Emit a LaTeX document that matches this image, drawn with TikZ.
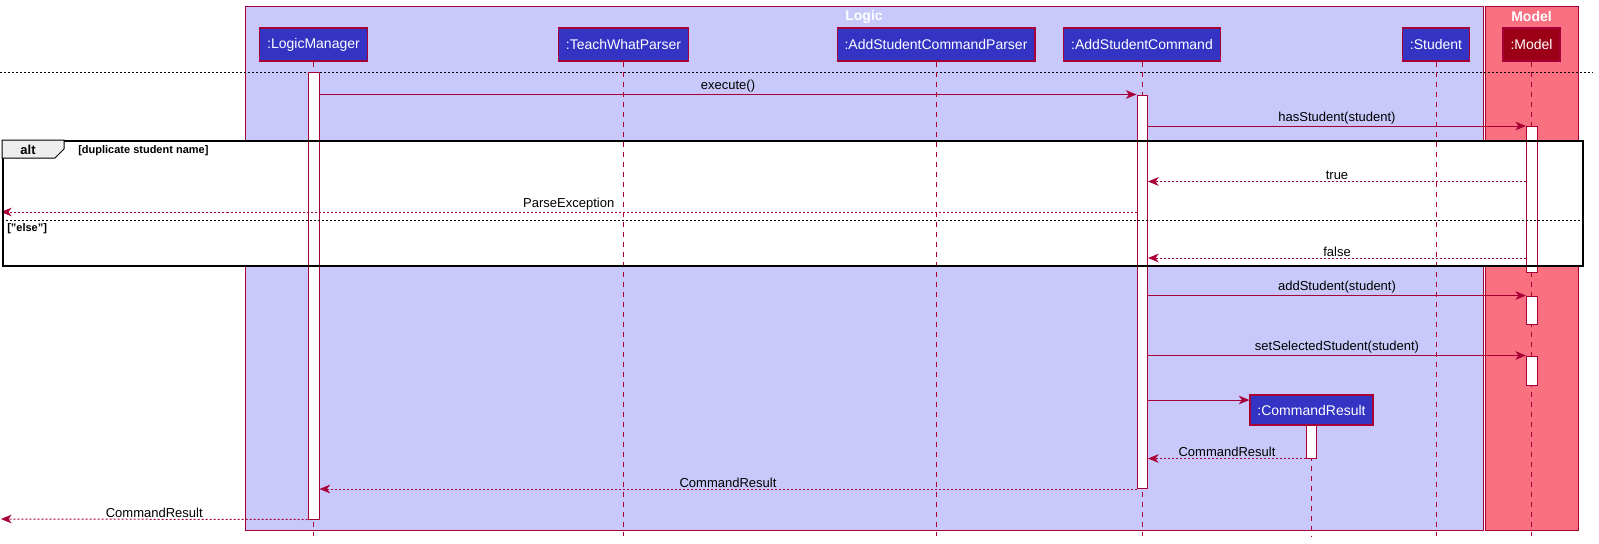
\documentclass[tikz,border=0pt]{standalone}
\usepackage{fontspec}
\setmainfont{Liberation Sans}
\usetikzlibrary{arrows.meta,fit}

\definecolor{umlred}{HTML}{A80036}
\definecolor{logicbg}{HTML}{C8C8FA}
\definecolor{modelbg}{HTML}{F97181}
\definecolor{partblue}{HTML}{3333C4}
\definecolor{partred}{HTML}{9B0016}
\definecolor{tabgray}{HTML}{EEEEEE}

\tikzset{
  part/.style={draw=umlred, line width=0.9pt, text=white, font=\fontsize{10.5}{12}\selectfont,
    minimum height=24.75pt, inner xsep=5.6pt, inner ysep=0pt},
  life/.style={umlred, line width=0.75pt, dash pattern=on 3.75pt off 3.75pt},
  act/.style={draw=umlred, fill=white, line width=0.75pt, inner sep=0pt},
  msg/.style={umlred, line width=0.75pt, -{Stealth[length=8pt,width=6.5pt,inset=2.4pt]}},
  ret/.style={msg, dash pattern=on 1.5pt off 1.5pt},
  lbl/.style={above, text=black, font=\fontsize{9.75}{11}\selectfont, inner sep=1pt},
  grouptitle/.style={text=white, font=\fontsize{10.5}{12}\selectfont\bfseries},
}

\begin{document}
\begin{tikzpicture}[x=0.75pt, y=-0.75pt]
    \useasboundingbox (0,0) rectangle (1599,543);

    % Gruppi
    \draw[umlred, fill=logicbg, line width=0.75pt] (245,6) rectangle (1483.5,530.5);
    \node[grouptitle] (logicT) at (864,16.5) {Logic};
    \draw[umlred, fill=modelbg, line width=0.75pt] (1485,6) rectangle (1578,530.5);
    \node[grouptitle] (modelT) at (1531.5,16.5) {Model};

    % Separatore
    \coordinate (sepL) at (0,72);
    \coordinate (sepR) at (1593,72);
    \draw[black, line width=0.75pt, dash pattern=on 1.5pt off 1.5pt] (sepL) -- (sepR);

    % Sfondo del blocco alt
    \fill[white] (3,141) rectangle (1583,266);

    % Partecipanti
    \node[part, fill=partblue] (lm) at (313.5,44.5) {:LogicManager};
    \node[part, fill=partblue] (twp) at (623.5,44.5) {:TeachWhatParser};
    \node[part, fill=partblue] (ascp) at (936,44.5) {:AddStudentCommandParser};
    \node[part, fill=partblue] (asc) at (1142,44.5) {:AddStudentCommand};
    \node[part, fill=partblue] (stu) at (1436,44.5) {:Student};
    \node[part, fill=partred] (model) at (1531.5,44.5) {:Model};
    \node[part, fill=partblue, minimum height=22.5pt] (cr) at (1311.5,410) {:CommandResult};

    % Linee di vita
    \coordinate (bot) at (0,536);
    \foreach \p in {lm,twp,ascp,asc,stu,model,cr}
        \draw[life] (\p.south) -- (\p.south |- bot);

    % Attivazioni
    \node[act, fit={(308,72) (319,519)}] (aLM) {};
    \node[act, fit={(1137,95) (1147.5,488.5)}] (aASC) {};
    \node[act, fit={(1526.5,126.5) (1537,272)}] (aM1) {};
    \node[act, fit={(1526.5,296) (1537,324)}] (aM2) {};
    \node[act, fit={(1526.5,356) (1537,385.5)}] (aM3) {};
    \node[act, fit={(1306.5,425) (1316.5,458)}] (aCR) {};

    % Messaggi
    \draw[msg] (aLM.east |- aASC.north) -- node[lbl] {execute()} (aASC.north west);
    \draw[msg] (aASC.east |- aM1.north) -- node[lbl] {hasStudent(student)} (aM1.north west);
    \coordinate (yTrue) at (0,181.5);
    \draw[ret] (aM1.west |- yTrue) -- node[lbl] {true} (aASC.east |- yTrue);
    \coordinate (lost1) at (1,212);
    \draw[ret] (aASC.west |- lost1) -- node[lbl] {ParseException} (lost1);
    \coordinate (yFalse) at (0,258);
    \draw[ret] (aM1.west |- yFalse) -- node[lbl] {false} (aASC.east |- yFalse);
    \draw[msg] (aASC.east |- aM2.north) -- node[lbl] {addStudent(student)} (aM2.north west);
    \draw[msg] (aASC.east |- aM3.north) -- node[lbl] {setSelectedStudent(student)} (aM3.north west);
    \coordinate (yNew) at (0,400);
    \draw[msg] (aASC.east |- yNew) -- (cr.west |- yNew);
    \draw[ret] (aCR.south west) -- node[lbl] {CommandResult} (aASC.east |- aCR.south);
    \draw[ret] (aASC.south west) -- node[lbl] {CommandResult} (aLM.east |- aASC.south);
    \coordinate (lost2) at (1,519);
    \draw[ret] (aLM.south west) -- node[lbl] {CommandResult} (lost2);

    % Blocco alt
    \node[draw=black, line width=1.5pt, inner sep=0pt, fit={(3,141) (1583,266)}] (alt) {};
    \draw[fill=tabgray, line width=0.75pt] (alt.north west) -- ++(62,0) -- ++(0,9) -- ++(-9,9) -- ++(-53,0) -- cycle;
    \node[font=\fontsize{9.75}{11}\selectfont\bfseries] (altL) at (28,150) {alt};
    \node[anchor=west, font=\fontsize{8.25}{10}\selectfont\bfseries, inner sep=0pt] (guard1) at (78,150.5) {[duplicate student name]};
    \coordinate (yElse) at (0,220);
    \draw[black, line width=0.75pt, dash pattern=on 1.5pt off 1.5pt] (alt.west |- yElse) -- (alt.east |- yElse);
    \node[anchor=north west, font=\fontsize{8.25}{10}\selectfont\bfseries, inner sep=0pt] (guard2) at (7,223) {["else"]};

\end{tikzpicture}
\end{document}
